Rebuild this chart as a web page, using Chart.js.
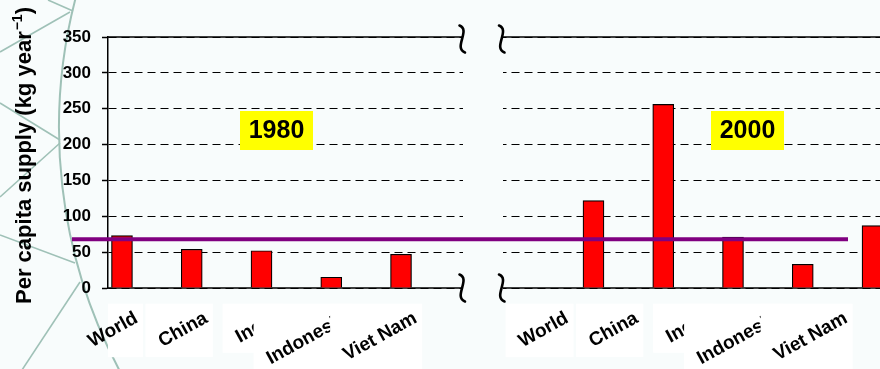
<!DOCTYPE html>
<html>
<head>
<meta charset="utf-8">
<script src="https://cdn.jsdelivr.net/npm/chart.js@4"></script>
<style>
  html, body { margin: 0; padding: 0; background: #f8fcfc; overflow: hidden; }
  #wrap { position: relative; width: 880px; height: 369px; }
</style>
</head>
<body>
<div id="wrap"><canvas id="chart" width="880" height="369"></canvas></div>
<script>
// ---- data ----
const countries = ['World', 'China', 'India', 'Indonesia', 'Viet Nam'];
const supply1980 = [73, 54, 52, 15, 47];
const supply2000 = [122, 256, 71, 33, 87];
const periods = ['1980', '2000'];
const yMax = 350;
const yTickStep = 50;
const referenceSupply = 68;

// ---- layout & style ----
const FONT = "'Liberation Sans', Arial, Helvetica, sans-serif";
const BG = '#f8fcfc';
const panelSpans = { x1: [97.6, 446.4], x2: [548.1, 896.9] };
const labelShift = { x1: 4, x2: -16 };
const labelY = 317;
const labelSize = 19;
const labelAngle = 29 * Math.PI / 180;
const gap = { from: 463, to: 503, leftMark: 462, rightMark: 501.5 };
const yearBoxes = [{ cx: 276.5, cy: 130.5 }, { cx: 747.5, cy: 130.5 }];

function squiggle(ctx, cx, cy) {
  ctx.beginPath();
  ctx.moveTo(cx - 2.5, cy - 13.5);
  ctx.bezierCurveTo(cx + 9, cy - 9, cx - 9, cy + 9, cx + 3, cy + 13.5);
  ctx.stroke();
}

const decorPlugin = {
  id: 'decor',
  beforeDraw(chart) {
    const ctx = chart.ctx;
    ctx.save();
    ctx.fillStyle = BG;
    ctx.fillRect(0, 0, chart.width, chart.height);
    ctx.strokeStyle = '#9fc1b7';
    ctx.lineWidth = 2;
    ctx.beginPath();
    ctx.arc(575, 128, 516, 150 * Math.PI / 180, 197 * Math.PI / 180);
    ctx.stroke();
    ctx.lineWidth = 1.6;
    const segs = [
      [48, 0, 73, 11], [0, 52, 70, 12], [0, 103, 60, 140],
      [60, 143, 0, 197], [0, 235, 75, 263], [80, 282, 22, 370]
    ];
    for (const [a, b, c, d] of segs) {
      ctx.beginPath(); ctx.moveTo(a, b); ctx.lineTo(c, d); ctx.stroke();
    }
    ctx.restore();
  },
  afterLayout(chart) {
    for (const id of Object.keys(panelSpans)) {
      const s = chart.scales[id];
      s.left = panelSpans[id][0];
      s.right = panelSpans[id][1];
      s.width = s.right - s.left;
      s.configure();
    }
  },
  beforeDatasetsDraw(chart) {
    const ctx = chart.ctx;
    const y = chart.scales.y;
    const area = chart.chartArea;
    ctx.save();
    // solid frame lines at the top and at zero
    ctx.strokeStyle = '#000';
    ctx.lineWidth = 1.5;
    for (const v of [0, yMax]) {
      const py = y.getPixelForValue(v);
      ctx.beginPath(); ctx.moveTo(area.left, py); ctx.lineTo(area.right, py); ctx.stroke();
    }
    // axis break between the two periods
    ctx.fillStyle = BG;
    ctx.fillRect(gap.from, area.top - 12, gap.to - gap.from, area.bottom - area.top + 26);
    ctx.lineWidth = 2.6;
    ctx.lineCap = 'round';
    for (const v of [0, yMax]) {
      const py = y.getPixelForValue(v) + (v === 0 ? 0 : 2);
      squiggle(ctx, gap.leftMark, py);
      squiggle(ctx, gap.rightMark, py);
    }
    ctx.restore();
  },
  afterDraw(chart) {
    const ctx = chart.ctx;
    const y = chart.scales.y;
    const area = chart.chartArea;
    ctx.save();
    // reference level
    const ry = y.getPixelForValue(referenceSupply);
    ctx.strokeStyle = '#800080';
    ctx.lineWidth = 4;
    ctx.beginPath(); ctx.moveTo(72, ry); ctx.lineTo(848, ry); ctx.stroke();

    // category labels with white backing boxes
    ctx.font = `bold ${labelSize}px ${FONT}`;
    const c = Math.cos(labelAngle), s = Math.sin(labelAngle), h = labelSize;
    for (const id of ['x1', 'x2']) {
      const scale = chart.scales[id];
      countries.forEach((name, i) => {
        const ax = scale.getPixelForValue(i) + labelShift[id];
        const ay = labelY;
        const w = ctx.measureText(name).width;
        const left = Math.max(area.left, ax - w * c - h / 2 * s - 10);
        const right = ax + h / 2 * s + 2;
        const top = ay - h / 2 * c - 5;
        const bottom = ay + w * s + h / 2 * c + 6;
        ctx.fillStyle = '#ffffff';
        ctx.fillRect(left, top, right - left, bottom - top);
        ctx.save();
        ctx.translate(ax, ay);
        ctx.rotate(-labelAngle);
        ctx.fillStyle = '#000';
        ctx.textAlign = 'right';
        ctx.textBaseline = 'middle';
        ctx.fillText(name, 0, 0);
        ctx.restore();
      });
    }

    // period tags
    periods.forEach((p, i) => {
      const b = yearBoxes[i];
      ctx.fillStyle = '#ffff00';
      ctx.fillRect(b.cx - 36.5, b.cy - 19.5, 73, 39);
      ctx.fillStyle = '#000';
      ctx.font = `bold 25px ${FONT}`;
      ctx.textAlign = 'center';
      ctx.textBaseline = 'middle';
      ctx.fillText(p, b.cx, b.cy + 1);
    });

    // y-axis title with superscript
    const main = 'Per capita supply (kg year';
    const sup = '\u22121';
    const close = ')';
    ctx.font = `bold 22px ${FONT}`;
    const wMain = ctx.measureText(main).width;
    const wClose = ctx.measureText(close).width;
    ctx.font = `bold 14px ${FONT}`;
    const wSup = ctx.measureText(sup).width;
    const total = wMain + wSup + wClose;
    ctx.translate(31, 156);
    ctx.rotate(-Math.PI / 2);
    ctx.fillStyle = '#000';
    ctx.textAlign = 'left';
    ctx.textBaseline = 'alphabetic';
    const x0 = -total / 2;
    ctx.font = `bold 22px ${FONT}`;
    ctx.fillText(main, x0, 0);
    ctx.font = `bold 14px ${FONT}`;
    ctx.fillText(sup, x0 + wMain + 1, -9);
    ctx.font = `bold 22px ${FONT}`;
    ctx.fillText(close, x0 + wMain + wSup + 1, 0);
    ctx.restore();
  }
};

const hiddenAxis = (height) => ({
  type: 'category',
  position: 'bottom',
  offset: true,
  grid: { display: false },
  border: { display: false },
  ticks: { display: false },
  afterFit: (s) => { s.height = height; }
});

const barStyle = {
  barThickness: 21,
  backgroundColor: '#ff0000',
  borderColor: '#000000',
  borderWidth: 1.2,
  borderSkipped: 'start'
};

new Chart(document.getElementById('chart'), {
  type: 'bar',
  data: {
    labels: countries,
    datasets: [
      Object.assign({ label: periods[0], data: supply1980, xAxisID: 'x1', yAxisID: 'y' }, barStyle),
      Object.assign({ label: periods[1], data: supply2000, xAxisID: 'x2', yAxisID: 'y' }, barStyle)
    ]
  },
  options: {
    responsive: false,
    animation: false,
    devicePixelRatio: 1,
    layout: { padding: { top: 37, left: 0, right: 0, bottom: 0 } },
    plugins: { legend: { display: false }, tooltip: { enabled: false } },
    scales: {
      x1: hiddenAxis(81),
      x2: hiddenAxis(0),
      y: {
        position: 'left',
        min: 0,
        max: yMax,
        ticks: {
          stepSize: yTickStep,
          color: '#000',
          padding: 11,
          font: { family: FONT, size: 17, weight: 'bold' }
        },
        grid: { color: '#000', lineWidth: 1, tickLength: 6, tickColor: '#000', tickWidth: 1.5 },
        border: { display: true, color: '#000', width: 1.5, dash: [8, 5] },
        afterFit: (s) => { s.width = 108; }
      }
    }
  },
  plugins: [decorPlugin]
});
</script>
</body>
</html>
